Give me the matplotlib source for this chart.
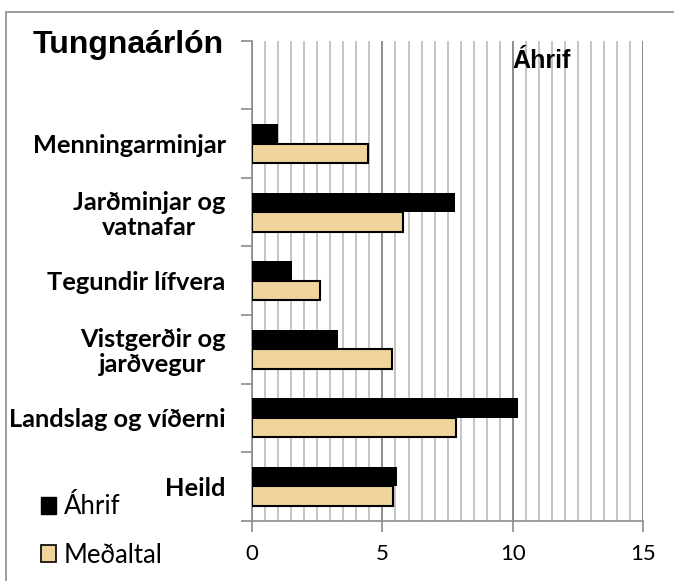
import numpy as np
import matplotlib
matplotlib.use("Agg")
import matplotlib.pyplot as plt
from matplotlib.patches import Patch, Rectangle

# data, bottom to top
categories = ['Heild', 'Landslag og víðerni', 'Vistgerðir og\njarðvegur',
              'Tegundir lífvera', 'Jarðminjar og\nvatnafar', 'Menningarminjar']
ahrif = [5.55, 10.19, 3.30, 1.53, 7.77, 1.01]
medaltal = [5.42, 7.83, 5.36, 2.61, 5.79, 4.43]
x_ticks = [0, 5, 10, 15]

BEIGE = '#F0D49C'
LABEL_FONT = ['Lato', 'DejaVu Sans']
HEAD_FONT = ['Liberation Sans', 'DejaVu Sans']

fig = plt.figure(figsize=(6.74, 5.81), dpi=100)
ax = fig.add_axes([252 / 674, 1 - 520.7 / 581, (643.3 - 252) / 674, (520.7 - 40.7) / 581])

# chart border (light grey, cut off at right and bottom)
fig.patches.append(Rectangle((6 / 674, -0.05), 1.1, 1 - 12 / 581 + 0.05,
                             transform=fig.transFigure, fill=False,
                             edgecolor='#8C8C8C', linewidth=1.2))

y = np.arange(len(categories))
h = 0.285
ax.barh(y + h / 2, ahrif, height=h, color='black', zorder=3)
ax.barh(y - h / 2, medaltal, height=h, color=BEIGE, edgecolor='black',
        linewidth=1.5, zorder=3)

# one empty slot on top, as in the original
ax.set_xlim(0, 15)
ax.set_ylim(-0.5, len(categories) + 0.5)

# gridlines: every 0.5 light, every 5 darker
ax.set_xticks(x_ticks)
ax.set_xticks(np.arange(0, 15.01, 0.5), minor=True)
ax.grid(axis='x', which='minor', color='#C0C0C0', linewidth=1.3, zorder=0)
ax.grid(axis='x', which='major', color='#8C8C8C', linewidth=1.4, zorder=0)
ax.set_axisbelow(True)

ax.set_xticklabels([str(t) for t in x_ticks], family=LABEL_FONT, fontsize=16)
ax.tick_params(axis='x', which='major', length=8, width=1.2, color='#8C8C8C',
               direction='out', pad=9)
ax.tick_params(axis='x', which='minor', length=0)

# category labels at centres, tick marks at boundaries
ax.set_yticks(y)
ax.set_yticklabels(categories, family=LABEL_FONT, fontsize=18.3,
                   fontweight='bold', multialignment='center', linespacing=1.1)
ax.set_yticks(np.arange(-0.5, len(categories) + 0.6, 1), minor=True)
ax.tick_params(axis='y', which='major', length=0, pad=19)
ax.tick_params(axis='y', which='minor', length=8, width=1.2, color='#8C8C8C',
               direction='out')

for side in ['top', 'right']:
    ax.spines[side].set_visible(False)
for side in ['left', 'bottom']:
    ax.spines[side].set_color('#8C8C8C')
    ax.spines[side].set_linewidth(1.2)

ax.text(10, len(categories) + 0.1, 'Áhrif', family=HEAD_FONT, fontsize=18,
        fontweight='bold', ha='left', va='baseline')

fig.text(33 / 674, 1 - 45 / 581, 'Tungnaárlón', family=HEAD_FONT, fontsize=23,
         fontweight='bold', ha='left', va='center')

handles = [Patch(facecolor='black', edgecolor='black'),
           Patch(facecolor=BEIGE, edgecolor='black', linewidth=1.2)]
fig.legend(handles, ['Áhrif', 'Meðaltal'], loc='center left',
           bbox_to_anchor=(28 / 674, 1 - 531 / 581), frameon=False,
           prop={'family': LABEL_FONT, 'size': 18.5}, handlelength=0.6,
           handleheight=0.6, handletextpad=0.3, labelspacing=0.9,
           borderpad=0)

fig.savefig('out.png', dpi=100)
